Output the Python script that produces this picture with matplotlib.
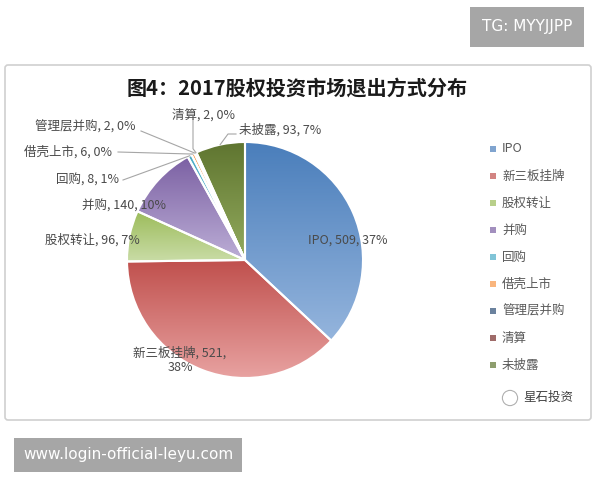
import numpy as np
import matplotlib
matplotlib.use("Agg")
import matplotlib.pyplot as plt
from matplotlib.colors import LinearSegmentedColormap
from matplotlib.patches import FancyBboxPatch

plt.rcParams['font.family'] = ['Noto Sans CJK SC', 'DejaVu Sans']

categories = ['IPO', '新三板挂牌', '股权转让', '并购', '回购', '借壳上市', '管理层并购', '清算', '未披露']
values = [509, 521, 96, 140, 8, 6, 2, 2, 93]
title = '图4：2017股权投资市场退出方式分布'
dark_colors = ['#4a7ebb', '#c0504d', '#9bbb59', '#7b60a3', '#4bacc6', '#f79646', '#2c4d75', '#772c2a', '#5f7530']
light_colors = ['#95b5dd', '#e8a2a1', '#c9dca6', '#bcaed6', '#8fd0e0', '#fbc08f', '#5a7ba3', '#a55a58', '#93ab5e']

W, H = 600, 480
fig = plt.figure(figsize=(6, 4.8), dpi=100)
ax = fig.add_axes([0, 0, 1, 1])

def Y(p):
    return H - p

# chart frame
frame = FancyBboxPatch((5, Y(420)), 586, 355, boxstyle="round,pad=0,rounding_size=3",
                       facecolor='white', edgecolor='#d0d0d0', lw=1.2, zorder=0)
ax.add_patch(frame)

cx, cy, R = 245, Y(260), 118
wedges, _ = ax.pie(values, startangle=90, counterclock=False, center=(cx, cy), radius=R,
                   colors=dark_colors, wedgeprops=dict(edgecolor='white', linewidth=1.5))

grad = np.linspace(0, 1, 256).reshape(-1, 1)
for w, dc, lc in zip(wedges, dark_colors, light_colors):
    bb = w.get_path().get_extents()
    cmap = LinearSegmentedColormap.from_list('g', [lc, dc])
    im = ax.imshow(grad, extent=[bb.x0, bb.x1, bb.y0, bb.y1], origin='lower', cmap=cmap,
                   aspect='auto', zorder=2, interpolation='bilinear')
    im.set_clip_path(w)
    w.set_facecolor('none')
    w.set_zorder(3)

total = sum(values)
labels = [f'{c}, {v}, {round(v / total * 100):.0f}%' for c, v in zip(categories, values)]
labels[1] = f'{categories[1]}, {values[1]},\n{round(values[1] / total * 100):.0f}%'

txt_color = '#4a4a4a'
fs = 9
# label positions (pixel space, text center)
label_pos = [
    (348, 240),
    (180, 360),
    (92, 240),
    (124, 206),
    (88, 180),
    (68, 152),
    (85, 127),
    (203, 115),
    (280, 130),
]
for lab, (lx, ly) in zip(labels, label_pos):
    ax.text(lx, Y(ly), lab, ha='center', va='center', fontsize=fs, color=txt_color, zorder=5,
            linespacing=1.1)

# leader lines for small slices
angles = 90 - 360 * np.cumsum([0] + values[:-1]) / total - 180 * np.array(values) / total
def edge_pt(i, r=1.0):
    a = np.deg2rad(angles[i])
    return cx + R * r * np.cos(a), cy + R * r * np.sin(a)

leaders = {4: (123, 180), 5: (118, 152), 6: (141, 131), 7: (193, 119), 8: (236, 134)}
for i, (px, py) in leaders.items():
    ex, ey = edge_pt(i, 1.0)
    if i == 7:
        ax.plot([px, px, ex], [Y(py), ey + 4, ey], color='#a6a6a6', lw=0.8, zorder=4)
    elif i == 8:
        ax.plot([px, px - 8, ex], [Y(py), Y(py), ey], color='#a6a6a6', lw=0.8, zorder=4)
    else:
        ax.plot([px, ex], [Y(py), ey], color='#a6a6a6', lw=0.8, zorder=4)

# title
ax.text(297, Y(88), title, ha='center', va='center', fontsize=14.5, fontweight='bold',
        color='#1a1a1a', zorder=5)

# legend
leg_x, leg_y0, leg_dy = 493, 149, 27
for i, (c, col) in enumerate(zip(categories, dark_colors)):
    yy = Y(leg_y0 + i * leg_dy)
    ax.scatter([leg_x], [yy], marker='s', s=14, color=col, alpha=0.7, zorder=5, linewidths=0)
    ax.text(leg_x + 9, yy, c, ha='left', va='center', fontsize=fs, color='#595959', zorder=5)

# source mark
ax.text(548, Y(397), '星石投资', ha='center', va='center', fontsize=9, color='#404040', zorder=5)
ax.scatter([510], [Y(398)], marker='o', s=120, facecolors='none', edgecolors='#b0b0b0',
           linewidths=0.8, zorder=5)

# watermarks
ax.text(527, Y(27), 'TG: MYYJJPP', ha='center', va='center', fontsize=11, color='white',
        family='DejaVu Sans', zorder=6,
        bbox=dict(boxstyle='square,pad=0.8', facecolor='#a6a6a6', edgecolor='none'))
ax.text(128, Y(455), 'www.login-official-leyu.com', ha='center', va='center', fontsize=11,
        color='white', family='DejaVu Sans', zorder=6,
        bbox=dict(boxstyle='square,pad=0.6', facecolor='#a6a6a6', edgecolor='none'))

ax.set_xlim(0, W)
ax.set_ylim(0, H)
ax.set_aspect('auto')
ax.axis('off')

fig.savefig('out.png', dpi=100)
